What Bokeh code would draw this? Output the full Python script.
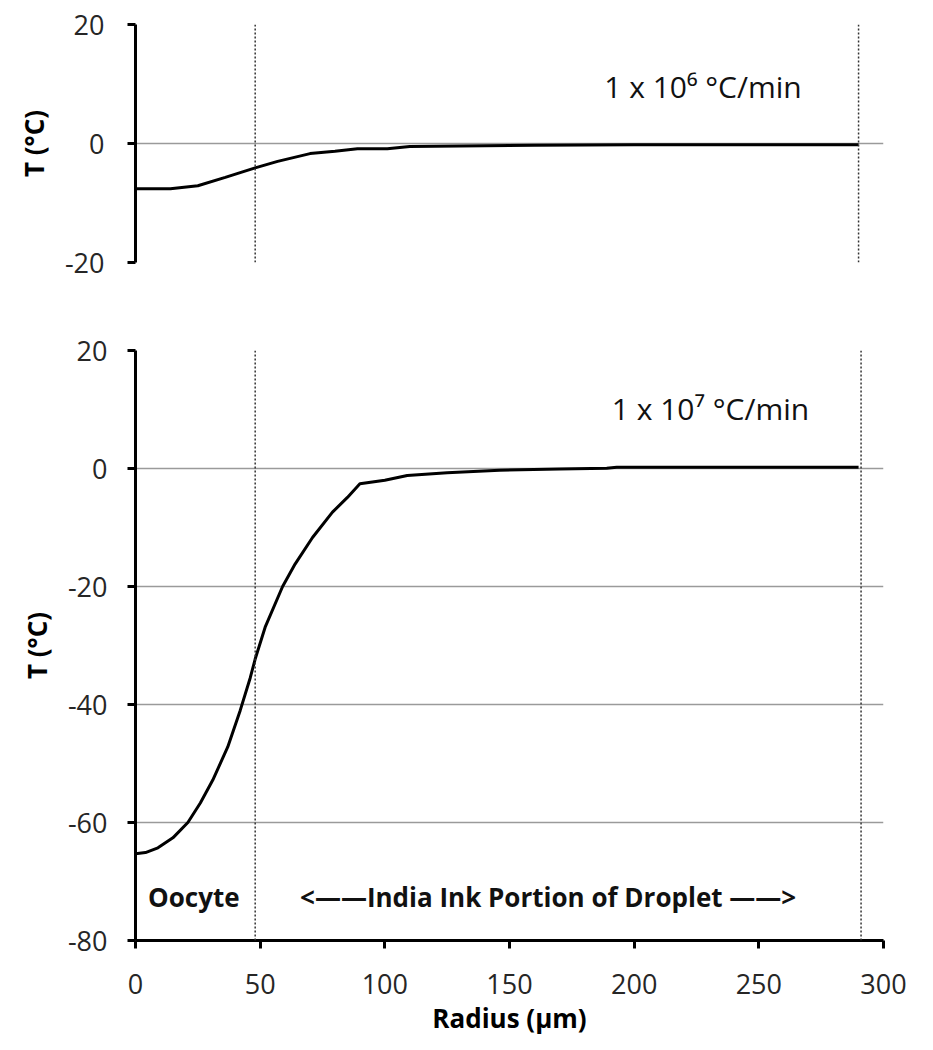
from bokeh.plotting import figure
from bokeh.layouts import column
from bokeh.models import Range1d, Span, Label, FixedTicker, PrintfTickFormatter
from bokeh.embed import file_html
from bokeh.resources import INLINE

# ---- data ----
radius_top = [0, 5, 14, 25, 36, 48, 57, 70, 80, 89, 101, 110, 130, 160, 200, 250, 290]
temp_top = [-7.6, -7.6, -7.6, -7.1, -5.7, -4.1, -3.0, -1.7, -1.3, -0.9, -0.9, -0.5,
            -0.4, -0.3, -0.2, -0.2, -0.2]

radius_bot = [0, 4, 9, 15, 21, 26, 31, 37, 42, 46, 48, 52, 59, 64, 71, 79, 85, 90, 100,
              109, 125, 146, 170, 189, 193, 230, 260, 290]
temp_bot = [-65.3, -65.1, -64.3, -62.6, -60.0, -56.7, -52.8, -47.2, -41.0, -35.5, -32.3,
            -26.9, -20.0, -16.2, -11.7, -7.4, -4.9, -2.6, -2.0, -1.2, -0.7, -0.3, -0.1,
            0.05, 0.2, 0.2, 0.2, 0.2]

boundaries_top = [48, 290]
boundaries_bot = [48, 291]

x_ticks = [0, 50, 100, 150, 200, 250, 300]
y_ticks_top = [-20, 0, 20]
y_ticks_bot = [-80, -60, -40, -20, 0, 20]

FONT = "Open Sans"
TICK_COLOR = "#262626"


def style_y(p, ticks, standoff):
    ax = p.yaxis[0]
    ax.ticker = FixedTicker(ticks=ticks)
    ax.formatter = PrintfTickFormatter(format="%d")
    ax.axis_label = "T (°C)"
    ax.axis_label_text_font = FONT
    ax.axis_label_text_font_style = "bold"
    ax.axis_label_text_font_size = "26px"
    ax.axis_label_text_color = "black"
    ax.axis_label_standoff = 10
    ax.major_label_text_font = FONT
    ax.major_label_text_font_size = "27px"
    ax.major_label_text_color = TICK_COLOR
    ax.major_label_standoff = standoff
    ax.axis_line_width = 3
    ax.axis_line_color = "black"
    ax.major_tick_line_width = 3
    ax.major_tick_line_color = "black"
    ax.major_tick_out = 8
    ax.major_tick_in = 0
    ax.minor_tick_line_color = None
    p.ygrid.ticker = FixedTicker(ticks=ticks)
    p.ygrid.grid_line_color = "#9a9a9a"
    p.ygrid.grid_line_width = 1.5
    p.xgrid.grid_line_color = None


# ---- top panel ----
p1 = figure(width=918, height=300, output_backend="svg", toolbar_location=None,
            x_range=Range1d(0, 300), y_range=Range1d(-20, 20),
            x_axis_location=None,
            min_border_left=132, min_border_right=35, min_border_top=24,
            min_border_bottom=38)
p1.outline_line_color = None
style_y(p1, y_ticks_top, 23)
for b in boundaries_top:
    p1.add_layout(Span(location=b, dimension="height", line_color="#333333",
                       line_width=1.5, line_dash="2 2"))
p1.line(radius_top, temp_top, line_color="black", line_width=3)
p1.add_layout(Label(x=188, y=9.6, text="1 x 10⁶ °C/min", text_font=FONT,
                    text_font_size="30px", text_color="#111111",
                    text_baseline="alphabetic"))

# ---- bottom panel ----
p2 = figure(width=918, height=740, output_backend="svg", toolbar_location=None,
            x_range=Range1d(0, 300), y_range=Range1d(-80, 20),
            min_border_left=135, min_border_right=33, min_border_top=50,
            min_border_bottom=100)
p2.outline_line_color = None
style_y(p2, y_ticks_bot, 20)
xa = p2.xaxis[0]
xa.ticker = FixedTicker(ticks=x_ticks)
xa.axis_label = "Radius (µm)"
xa.axis_label_text_font = FONT
xa.axis_label_text_font_style = "bold"
xa.axis_label_text_font_size = "26px"
xa.axis_label_text_color = "black"
xa.axis_label_standoff = 3
xa.major_label_text_font = FONT
xa.major_label_text_font_size = "27px"
xa.major_label_text_color = TICK_COLOR
xa.major_label_standoff = 25
xa.axis_line_width = 3
xa.axis_line_color = "black"
xa.major_tick_line_width = 3
xa.major_tick_line_color = "black"
xa.major_tick_out = 8
xa.major_tick_in = 0
xa.minor_tick_line_color = None

for b in boundaries_bot:
    p2.add_layout(Span(location=b, dimension="height", line_color="#333333",
                       line_width=1.5, line_dash="2 2"))
p2.line(radius_bot, temp_bot, line_color="black", line_width=3)
p2.add_layout(Label(x=191, y=10.1, text="1 x 10⁷ °C/min", text_font=FONT,
                    text_font_size="30px", text_color="#111111",
                    text_baseline="alphabetic"))
p2.add_layout(Label(x=5, y=-72.7, text="Oocyte", text_font=FONT,
                    text_font_size="26px", text_font_style="bold",
                    text_color="#111111", text_baseline="alphabetic"))
p2.add_layout(Label(x=66, y=-72.7, text="<——India Ink Portion of Droplet ——>",
                    text_font=FONT, text_font_size="26px", text_font_style="bold",
                    text_color="#111111", text_baseline="alphabetic"))

layout = column(p1, p2, spacing=0)
open("out.html", "w").write(file_html(layout, INLINE))
